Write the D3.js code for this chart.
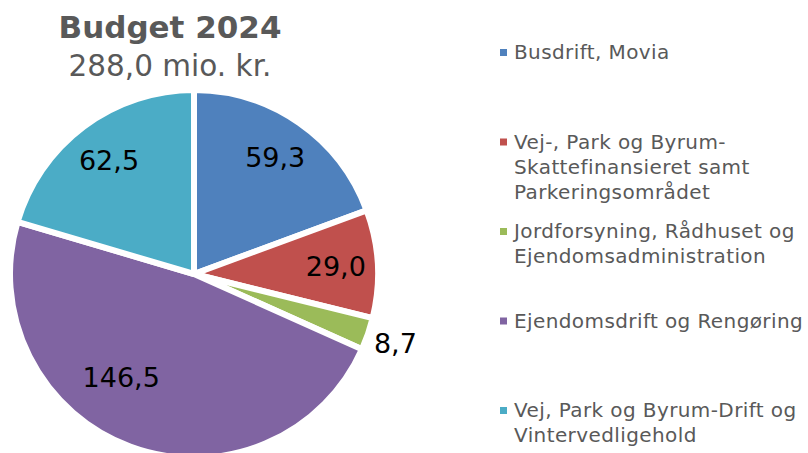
<!DOCTYPE html>
<html>
<head>
<meta charset="utf-8">
<script src="https://cdn.jsdelivr.net/npm/d3@7"></script>
<style>
  body { margin: 0; background: #fff; }
  svg { display: block; font-family: "DejaVu Sans", Verdana, sans-serif; }
  .legend text { fill: #595959; font-size: 20px; letter-spacing: 0.4px; }
  .title { fill: #595959; }
</style>
</head>
<body>
<div id="chart-area"></div>
<script>
// Data
var categories = [
  "Busdrift, Movia",
  "Vej-, Park og Byrum-Skattefinansieret samt Parkeringsområdet",
  "Jordforsyning, Rådhuset og Ejendomsadministration",
  "Ejendomsdrift og Rengøring",
  "Vej, Park og Byrum-Drift og Vintervedligehold"
];
var values = [59.3, 29.0, 8.7, 146.5, 62.5];
var valueLabels = ["59,3", "29,0", "8,7", "146,5", "62,5"];
// legend text as it wraps in the original
var legendLines = [
  ["Busdrift, Movia"],
  ["Vej-, Park og Byrum-", "Skattefinansieret samt", "Parkeringsområdet"],
  ["Jordforsyning, Rådhuset og", "Ejendomsadministration"],
  ["Ejendomsdrift og Rengøring"],
  ["Vej, Park og Byrum-Drift og", "Vintervedligehold"]
];
var colors = ["#4F81BD", "#C0504D", "#9BBB59", "#8064A2", "#4BACC6"];

var width = 808, height = 453;
var cx = 194, cy = 274, radius = 184;

// label placement (radius, angle shift in degrees) per slice
var labelPos = [
  {r: 142, shift: 0},
  {r: 142, shift: 0},
  {r: 213, shift: 0},
  {r: 126, shift: 15},
  {r: 142, shift: 0}
];

var svg = d3.select("#chart-area").append("svg")
  .attr("width", width)
  .attr("height", height);

var color = d3.scaleOrdinal().domain(categories).range(colors);

var pie = d3.pie().sort(null).value(function(d) { return d; });
var arc = d3.arc().innerRadius(0).outerRadius(radius);

var arcs = pie(values);

var pieGroup = svg.append("g")
  .attr("transform", "translate(" + cx + "," + cy + ")");

pieGroup.selectAll("path")
  .data(arcs)
  .enter()
  .append("path")
  .attr("d", arc)
  .attr("fill", function(d, i) { return color(categories[i]); })
  .attr("stroke", "#fff")
  .attr("stroke-width", 6)
  .attr("stroke-linejoin", "round");

pieGroup.selectAll("text")
  .data(arcs)
  .enter()
  .append("text")
  .attr("transform", function(d, i) {
    var a = (d.startAngle + d.endAngle) / 2 + labelPos[i].shift * Math.PI / 180;
    var r = labelPos[i].r;
    return "translate(" + (Math.sin(a) * r) + "," + (-Math.cos(a) * r) + ")";
  })
  .attr("dy", "0.36em")
  .attr("text-anchor", "middle")
  .attr("font-size", "27px")
  .attr("fill", "#000")
  .text(function(d, i) { return valueLabels[i]; });

// Title
svg.append("text")
  .attr("class", "title")
  .attr("x", 170)
  .attr("y", 38)
  .attr("text-anchor", "middle")
  .attr("font-size", "31px")
  .attr("font-weight", "bold")
  .text("Budget 2024");

svg.append("text")
  .attr("class", "title")
  .attr("x", 170)
  .attr("y", 76)
  .attr("text-anchor", "middle")
  .attr("font-size", "29.5px")
  .text("288,0 mio. kr.");

// Legend
var legendY = d3.scaleLinear().domain([0, categories.length - 1]).range([59, 417]);

var legend = svg.append("g").attr("class", "legend");

var items = legend.selectAll("g")
  .data(categories)
  .enter()
  .append("g")
  .attr("transform", function(d, i) { return "translate(500," + legendY(i) + ")"; });

items.append("rect")
  .attr("x", 0)
  .attr("y", -10)
  .attr("width", 7)
  .attr("height", 7)
  .attr("fill", function(d) { return color(d); });

items.append("text")
  .attr("x", 14)
  .attr("y", 0)
  .selectAll("tspan")
  .data(function(d, i) { return legendLines[i]; })
  .enter()
  .append("tspan")
  .attr("x", 14)
  .attr("dy", function(d, j) { return j === 0 ? 0 : 25; })
  .text(function(d) { return d; });
</script>
</body>
</html>
